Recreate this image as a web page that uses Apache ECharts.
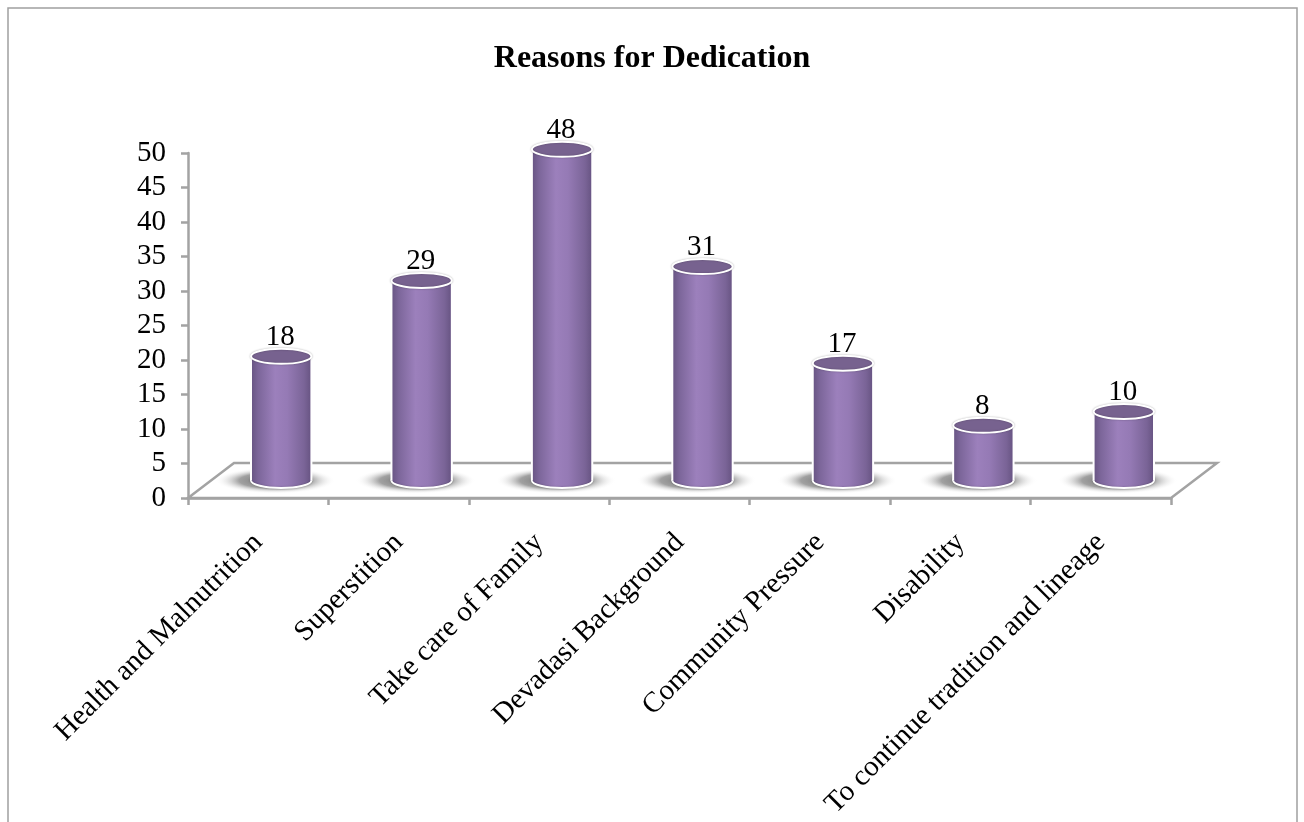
<!DOCTYPE html>
<html>
<head>
<meta charset="utf-8">
<script src="https://cdn.jsdelivr.net/npm/echarts@6/dist/echarts.min.js"></script>
<style>html,body{margin:0;padding:0;background:#fff;}#c{width:1304px;height:822px;}</style>
</head>
<body>
<div id="c"></div>
<script>
const titleText = 'Reasons for Dedication';
const categories = ['Health and Malnutrition','Superstition','Take care of Family','Devadasi Background','Community Pressure','Disability','To continue tradition and lineage'];
const values = [18, 29, 48, 31, 17, 8, 10];
const yMin = 0, yMax = 50, yStep = 5;

const SERIF = '"Liberation Serif", "DejaVu Serif", serif';
const AXIS_GRAY = '#a3a3a3';
const DEPTH = [46, -35];

const bodyGrad = {
  type: 'linear', x: 0, y: 0, x2: 1, y2: 0,
  colorStops: [
    {offset: 0, color: '#675482'},
    {offset: 0.12, color: '#7c669a'},
    {offset: 0.4, color: '#9c80bc'},
    {offset: 0.6, color: '#957ab5'},
    {offset: 0.88, color: '#7a6497'},
    {offset: 1, color: '#665381'}
  ]
};

const chart = echarts.init(document.getElementById('c'), null, {renderer: 'canvas'});
chart.setOption({
  backgroundColor: '#fff',
  animation: false,
  title: {
    text: titleText, left: 'center', top: 38,
    textStyle: {fontFamily: SERIF, fontWeight: 'bold', fontSize: 32, color: '#000'}
  },
  graphic: [{
    type: 'rect', shape: {x: 8, y: 8, width: 1289, height: 830},
    style: {fill: 'none', stroke: '#a0a0a0', lineWidth: 1.5}, z: -10
  }],
  grid: {left: 188, right: 133, top: 153, bottom: 324, containLabel: false, outerBoundsMode: 'none'},
  xAxis: {
    type: 'category', data: categories, boundaryGap: true,
    axisLine: {show: true, lineStyle: {color: AXIS_GRAY, width: 2.5}},
    axisTick: {show: true, length: 7, alignWithLabel: false, lineStyle: {color: AXIS_GRAY, width: 2.5}},
    axisLabel: {interval: 0, rotate: 45, margin: 40, color: '#000', fontFamily: SERIF, fontSize: 29},
    splitLine: {show: false}
  },
  yAxis: {
    type: 'value', min: yMin, max: yMax, interval: yStep,
    axisLine: {show: true, lineStyle: {color: AXIS_GRAY, width: 2.5}},
    axisTick: {show: true, length: 7, lineStyle: {color: AXIS_GRAY, width: 2.5}},
    axisLabel: {margin: 22, color: '#000', fontFamily: SERIF, fontSize: 29},
    splitLine: {show: false}
  },
  series: [
    {
      type: 'custom', z: 1, silent: true,
      data: [[0, 0]],
      renderItem: function (params, api) {
        const cs = params.coordSys;
        const x0 = cs.x, x1 = cs.x + cs.width, y0 = cs.y + cs.height;
        return {
          type: 'polygon',
          shape: {points: [[x0, y0], [x1, y0], [x1 + DEPTH[0], y0 + DEPTH[1]], [x0 + DEPTH[0], y0 + DEPTH[1]]]},
          style: {fill: '#fff', stroke: AXIS_GRAY, lineWidth: 2.5}
        };
      }
    },
    {
      type: 'custom', z: 2,
      data: values.map((v, i) => [i, v]),
      encode: {x: 0, y: 1},
      renderItem: function (params, api) {
        const idx = api.value(0), v = api.value(1);
        const base = api.coord([idx, 0]);
        const top = api.coord([idx, v]);
        const dx = DEPTH[0] / 2, dy = DEPTH[1] / 2;
        const cx = base[0] + dx, by = base[1] + dy, ty = top[1] + dy;
        const w = api.size([1, 0])[0] * 0.43;
        const rx = w / 2, ry = 7.5;
        return {
          type: 'group',
          children: [
            {
              type: 'circle', shape: {cx: 0, cy: 0, r: 60},
              x: cx - 6, y: by, scaleX: 1, scaleY: 0.22,
              style: {fill: {type: 'radial', x: 0.5, y: 0.5, r: 0.5, colorStops: [
                {offset: 0, color: 'rgba(80,80,80,0.9)'},
                {offset: 0.6, color: 'rgba(110,110,110,0.65)'},
                {offset: 1, color: 'rgba(255,255,255,0)'}
              ]}}
            },
            {
              type: 'ellipse', shape: {cx: cx, cy: by, rx: rx, ry: ry},
              style: {fill: bodyGrad, stroke: '#ffffff', lineWidth: 2, shadowBlur: 2, shadowColor: 'rgba(0,0,0,0.25)'}
            },
            {
              type: 'rect', shape: {x: cx - rx, y: ty, width: w, height: by - ty},
              style: {fill: bodyGrad}
            },
            {type: 'line', shape: {x1: cx - rx, y1: ty, x2: cx - rx, y2: by}, style: {stroke: '#ffffff', lineWidth: 2}},
            {type: 'line', shape: {x1: cx + rx, y1: ty, x2: cx + rx, y2: by}, style: {stroke: '#ffffff', lineWidth: 2}},
            {
              type: 'ellipse', shape: {cx: cx, cy: ty, rx: rx, ry: ry},
              style: {fill: '#77628f', stroke: '#ffffff', lineWidth: 2, shadowBlur: 2, shadowColor: 'rgba(0,0,0,0.25)'}
            },
            {
              type: 'text',
              style: {text: String(v), x: cx - 1, y: ty - ry + 3, align: 'center', verticalAlign: 'bottom',
                font: '29px ' + SERIF, fill: '#000'}
            }
          ]
        };
      }
    }
  ]
});
</script>
</body>
</html>
